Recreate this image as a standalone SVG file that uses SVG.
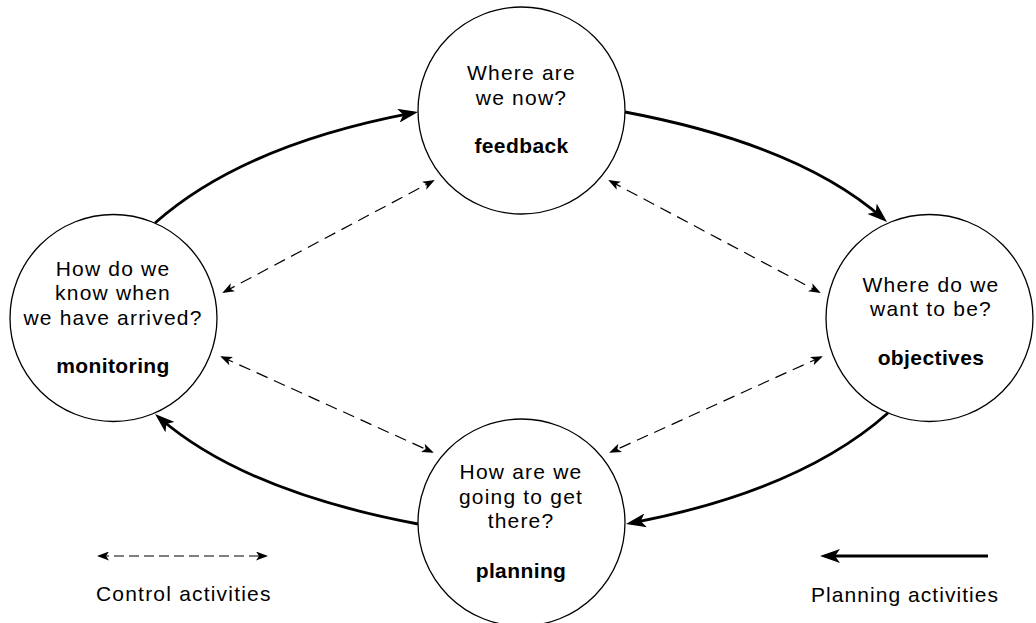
<svg xmlns="http://www.w3.org/2000/svg" width="1036" height="623" viewBox="0 0 1036 623">
<style>
.node circle{fill:#fff;stroke:#000;stroke-width:1.3}
text{font-family:"Liberation Sans",Arial,sans-serif;font-size:21px;fill:#000;letter-spacing:1.2px}
.c{text-anchor:middle}
.b{font-weight:bold;letter-spacing:0.4px}
.solid{fill:none;stroke:#000;stroke-width:2.8}
.dash{fill:none;stroke:#000;stroke-width:1.2;stroke-dasharray:12 7}
</style>
<defs>
<marker id="big" viewBox="0 0 20 14" markerWidth="20" markerHeight="14" refX="15" refY="7" markerUnits="userSpaceOnUse" orient="auto">
<path d="M0,0 L20,7 L0,14 L5,7 Z" fill="#000"/>
</marker>
<marker id="small" viewBox="0 0 12 9" markerWidth="12" markerHeight="9" refX="10" refY="4.5" markerUnits="userSpaceOnUse" orient="auto-start-reverse">
<path d="M0,0 L12,4.5 L0,9 L3,4.5 Z" fill="#000"/>
</marker>
</defs>
<rect width="1036" height="623" fill="#fff"/>
<g id="connectors">
<path class="solid" d="M155,223 Q243,145 413.1,112.9" marker-end="url(#big)"/>
<path class="solid" d="M625,112 Q800,145 883.3,218.7" marker-end="url(#big)"/>
<path class="solid" d="M888,413 Q800,491 630.9,523.1" marker-end="url(#big)"/>
<path class="solid" d="M418,524 Q243,491 158.8,417.3" marker-end="url(#big)"/>
<path class="dash" d="M224,292 L433,181" marker-start="url(#small)" marker-end="url(#small)"/>
<path class="dash" d="M610,181 L819,292" marker-start="url(#small)" marker-end="url(#small)"/>
<path class="dash" d="M222,357 L432,452" marker-start="url(#small)" marker-end="url(#small)"/>
<path class="dash" d="M821,357 L611,452" marker-start="url(#small)" marker-end="url(#small)"/>
</g>
<g id="node-feedback" class="node">
<circle cx="521.5" cy="110.5" r="103.5"/>
<text class="c" x="521.5" y="80">Where are</text>
<text class="c" x="521.5" y="105">we now?</text>
<text class="c b" x="521.5" y="153">feedback</text>
</g>
<g id="node-objectives" class="node">
<circle cx="929.5" cy="318" r="103.5"/>
<text class="c" x="931" y="292">Where do we</text>
<text class="c" x="931" y="316">want to be?</text>
<text class="c b" x="931" y="365">objectives</text>
</g>
<g id="node-planning" class="node">
<circle cx="521.5" cy="522.5" r="103.5"/>
<text class="c" x="521" y="479">How are we</text>
<text class="c" x="521" y="504">going to get</text>
<text class="c" x="521" y="528">there?</text>
<text class="c b" x="521" y="578">planning</text>
</g>
<g id="node-monitoring" class="node">
<circle cx="113.5" cy="318" r="103.5"/>
<text class="c" x="113" y="276">How do we</text>
<text class="c" x="113" y="300">know when</text>
<text class="c" x="113" y="325">we have arrived?</text>
<text class="c b" x="113" y="373">monitoring</text>
</g>
<g id="legend">
<path d="M99,556 L266,556" fill="none" stroke="#000" stroke-width="1.2" stroke-dasharray="10 5" marker-start="url(#small)" marker-end="url(#small)"/>
<text x="96" y="601">Control activities</text>
<path d="M988,556 L825,556" class="solid" marker-end="url(#big)"/>
<text x="811" y="602" style="letter-spacing:1.05px">Planning activities</text>
</g>
</svg>
